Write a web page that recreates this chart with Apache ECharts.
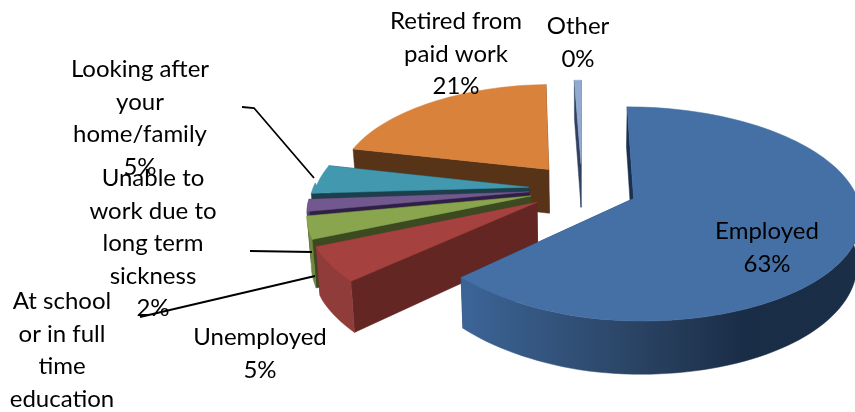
<!DOCTYPE html>
<html><head><meta charset="utf-8">
<style>html,body{margin:0;padding:0;background:#fff}#c{width:855px;height:412px}</style>
<script src="https://cdn.jsdelivr.net/npm/echarts@6/dist/echarts.min.js"></script>
</head><body><div id="c"></div>
<script>
// Data
const categories = ['Employed','Unemployed','At school or in full time education','Unable to work due to long term sickness','Looking after your home/family','Retired from paid work','Other'];
const values = [62.7, 5.2, 3.4, 1.8, 5.4, 20.9, 0.6];
const labelText = [
  'Employed\n63%','Unemployed\n5%','At school\nor in full\ntime\neducation\n4%',
  'Unable to\nwork due to\nlong term\nsickness\n2%','Looking after\nyour\nhome/family\n5%','Retired from\npaid work\n21%','Other\n0%'];

// Styles
const topColors  = ['#4570A5','#A5423F','#89A54E','#71588F','#4198AF','#D8823C','#93A9CF'];
const wallColors = ['#1B3050','#632623','#3C4A22','#2F1F45','#1B3F4B','#573318','#2F4060'];
const arcColors  = [null,'#8F3C3A','#71883F','#5A4672','#34798C','#A86530','#7486A5'];

// Layout of the projection
const CX = 582, CY = 188.5, RX = 221, RY = 102, PERSP = 0.1415, EXPLODE = 0.25, DEPTH = 45, BOTTOM_SHRINK = 0.985, START = 0;
const BACK_LEFT_SQUEEZE = 0.035, FRONT_LEFT_LIFT = 5, ARC_LAST_ANGLE = 262;
const labelAnchor = [[767,215],[260,321],[62,285],[153,162],[140,53],[456,5],[578,10]];
const leaders = [
  [[242,107],[254,108],[314,178]],
  [[250,251],[312,252]],
  [[140,317],[315,276]]
];

const total = values.reduce((a,b)=>a+b,0);
const rad = d => d*Math.PI/180;
function project(X, Y, lower){
  const w = 1/(1+PERSP*Y);
  let sx = 1;
  if (X<0) sx = 1 - BACK_LEFT_SQUEEZE*Math.min(1,Math.max(0,(Y+0.6)/0.6));
  let x = CX + RX*X*w*sx, y = CY - RY*Y*w;
  if (X<0 && Y<0) y += FRONT_LEFT_LIFT*X;
  if (lower){ x = CX + (x-CX)*BOTTOM_SHRINK; y += DEPTH*w; }
  return [x,y];
}
function sliceGeom(i){
  let s = START;
  for (let k=0;k<i;k++) s += values[k]/total*360;
  const e = s + values[i]/total*360, m = rad((s+e)/2);
  return {s,e,ox:Math.sin(m)*EXPLODE,oy:Math.cos(m)*EXPLODE};
}
function rim(g, from, to, lower){
  const pts=[], n=Math.max(2,Math.ceil(Math.abs(to-from)/2));
  for(let k=0;k<=n;k++){
    const a=rad(from+(to-from)*k/n);
    pts.push(project(g.ox+Math.sin(a), g.oy+Math.cos(a), lower));
  }
  return pts;
}
function poly(points, fill, z2){
  return {type:'polygon', z2, shape:{points}, style:{fill, stroke:fill, lineWidth:0.5}};
}
function renderSlice(params, api){
  const i = api.value(0);
  const g = sliceGeom(i);
  const z = (values.length-i)*10;
  const apex = project(g.ox,g.oy,false), apexB = project(g.ox,g.oy,true);
  const top = rim(g,g.s,g.e,false), bot = rim(g,g.s,g.e,true);
  const startT=top[0], startB=bot[0], endT=top[top.length-1], endB=bot[bot.length-1];
  const children = [
    poly([apex,endT,endB,apexB], wallColors[i], z),
    poly([apex,startT,startB,apexB], wallColors[i], z+1)
  ];
  // Outer wall: only the part of the rim that faces the viewer
  const af = Math.max(g.s,90), at = Math.min(g.e,ARC_LAST_ANGLE);
  if (at>af){
    const arcFill = i===0
      ? new echarts.graphic.LinearGradient(460,0,855,0,[
          {offset:0,color:'#3C6597'},{offset:0.45,color:'#2A4363'},{offset:0.72,color:'#1A2D47'},{offset:1,color:'#1B2E47'}],true)
      : arcColors[i];
    children.push(poly(rim(g,af,at,false).concat(rim(g,af,at,true).reverse()), arcFill, z+2));
  }
  children.push(poly([apex].concat(top), topColors[i], z+3));
  return {type:'group', children};
}
function renderLabel(params, api){
  const i = api.value(0);
  return {type:'text', z2:1000, style:{
    x:labelAnchor[i][0], y:labelAnchor[i][1], text:labelText[i],
    fontFamily:'Lato', fontSize:24, lineHeight:32.6, fill:'#000', align:'center', verticalAlign:'top'}};
}
function renderLeader(params, api){
  return {type:'polyline', z2:900, shape:{points:leaders[api.value(0)]},
    style:{fill:null, stroke:'#000', lineWidth:1.8}};
}
const chart = echarts.init(document.getElementById('c'), null, {renderer:'canvas'});
chart.setOption({
  animation:false, backgroundColor:'#fff',
  series:[
    {type:'custom', name:'Share', coordinateSystem:'none', renderItem:renderSlice, silent:true,
     data:categories.map((c,i)=>({name:c,value:[i,values[i]]}))},
    {type:'custom', coordinateSystem:'none', renderItem:renderLeader, silent:true, data:leaders.map((l,i)=>[i])},
    {type:'custom', coordinateSystem:'none', renderItem:renderLabel, silent:true,
     data:categories.map((c,i)=>[i])}
  ]
});
</script></body></html>
